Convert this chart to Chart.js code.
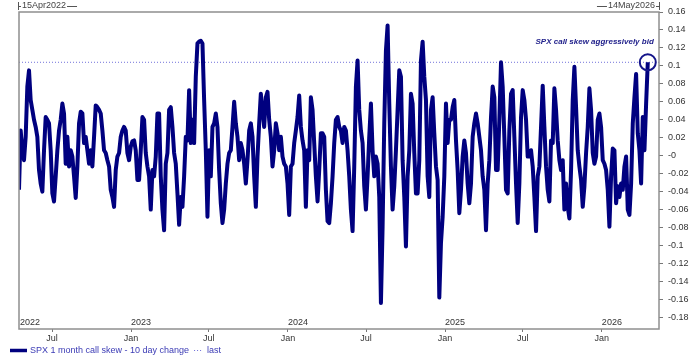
<!DOCTYPE html>
<html>
<head>
<meta charset="utf-8">
<script src="https://cdn.jsdelivr.net/npm/chart.js@4.4.1/dist/chart.umd.min.js"></script>
<style>
html, body { margin: 0; padding: 0; background: #fff; }
</style>
</head>
<body>
<canvas id="skew" width="700" height="357"></canvas>
<script>
// SPX 1 month call skew, 10 day change - sampled about every 3.9 days
const startDate = "2022-04-15"
const endDate = "2026-05-14"
const sampleDays = 3.883
const skewChange = [
	-0.038, 0.028, 0.006, -0.005, 0.021, 0.077, 0.095, 0.062, 0.051, 0.040,
	0.032, 0.021, -0.016, -0.031, -0.040, 0.006, 0.043, 0.040, 0.036, 0.006,
	-0.042, -0.051, -0.023, 0.006, 0.028, 0.040, 0.058, 0.047, -0.009, 0.021,
	-0.012, 0.006, -0.001, -0.023, -0.047, -0.012, 0.036, 0.049, 0.047, 0.014,
	0.021, 0.006, -0.009, 0.006, -0.012, 0.021, 0.056, 0.054, 0.051, 0.047,
	0.028, 0.006, 0.003, -0.005, -0.012, -0.038, -0.046, -0.057, -0.016, -0.001,
	0.003, 0.021, 0.028, 0.032, 0.028, 0.003, -0.005, 0.010, 0.016, 0.017,
	0.006, -0.027, -0.027, 0.006, 0.043,
	0.040, 0.003, -0.012, -0.023, -0.060, -0.016, -0.023, -0.001, 0.047, 0.047,
	-0.023, -0.060, -0.083, -0.009, 0.003, 0.051, 0.054, 0.032, 0.003, -0.009,
	-0.042, -0.077, -0.046, -0.057, -0.023, 0.021, 0.017, 0.073, 0.014, 0.040,
	0.014, 0.088, 0.125, 0.127, 0.128, 0.125, 0.062, 0.006, -0.068, 0.006,
	-0.023, 0.032, 0.036, 0.047, 0.032, -0.016, -0.053, -0.075, -0.060, -0.031,
	-0.009, 0.003, 0.006, 0.032, 0.060, 0.036, 0.021, -0.005, 0.014, 0.006,
	-0.009, -0.031, -0.005, 0.028, 0.036, 0.021, -0.023, -0.057, -0.001, 0.036,
	0.069, 0.051, 0.032, 0.065, 0.071, 0.040, 0.021, -0.012,
	0.006, 0.036, 0.025, 0.006, 0.021, -0.001, -0.009, -0.012, -0.031, -0.066,
	-0.012, -0.009, 0.014, 0.028, 0.043, 0.067, 0.032, 0.017, 0.006, -0.057,
	0.006, -0.005, 0.065, 0.051, 0.014, -0.023, -0.051, -0.016, 0.025, 0.025,
	0.021, -0.038, -0.073, -0.075, -0.053, -0.023, 0.014, 0.040, 0.043, 0.032,
	0.028, 0.014, 0.032, 0.028, 0.006, -0.023, -0.060, -0.084, -0.012, 0.077,
	0.106, 0.051, 0.028, 0.014, -0.034, -0.060, -0.023, 0.021, 0.058, 0.006,
	-0.023, -0.001, -0.009, -0.046, -0.164, -0.079, 0.036, 0.117, 0.145, 0.058,
	-0.012, -0.060, -0.034, 0.006, 0.051, 0.095, 0.088, -0.005,
	-0.046, -0.101, -0.023, 0.006, 0.069, 0.058, 0.003, -0.042, -0.042, -0.005,
	0.106, 0.127, 0.088, 0.062, -0.023, -0.046, 0.051, 0.065, 0.025, -0.012,
	-0.027, -0.158, -0.097, -0.068, -0.023, 0.058, 0.014, 0.040, 0.040, 0.054,
	0.062, 0.017, -0.016, -0.064, -0.038, -0.001, 0.017, 0.003, -0.031, -0.053,
	-0.031, 0.021, 0.036, 0.047, 0.036, 0.021, 0.006, -0.023, -0.038, -0.083,
	-0.031, -0.005, 0.043, 0.077, 0.065, -0.016, -0.016, 0.040, 0.104, 0.077,
	0.021, -0.038, -0.042, 0.028, 0.069, 0.073, 0.021, -0.031, -0.075, -0.031,
	0.043, 0.073, 0.062, 0.040, -0.001,
	-0.001, 0.006, -0.012, -0.046, -0.084, -0.023, -0.012, 0.032, 0.078, 0.032,
	-0.012, -0.038, -0.051, 0.017, 0.014, 0.075, 0.051, 0.017, -0.005, -0.016,
	-0.005, -0.060, -0.031, -0.057, -0.070, -0.016, 0.062, 0.099, 0.054, 0.006,
	-0.012, -0.027, -0.057, -0.034, 0.003, 0.032, 0.075, 0.051, 0.003, -0.009,
	-0.001, 0.040, 0.047, 0.032, -0.005, -0.009, -0.016, -0.038, -0.079, -0.023,
	0.008, 0.006, -0.053, -0.034, -0.046, -0.031, -0.038, -0.012, -0.001, -0.060,
	-0.066, -0.031, 0.036, 0.065, 0.091, 0.025, 0.006, -0.031, 0.043, 0.006,
	0.058, 0.104
]
const xTickDates = ["2022-07-01", "2023-01-01", "2023-07-01", "2024-01-01", "2024-07-01", "2025-01-01", "2025-07-01", "2026-01-01"]
const xTickLabels = ["Jul", "Jan", "Jul", "Jan", "Jul", "Jan", "Jul", "Jan"]
const yearDates = ["2022-04-15", "2023-01-01", "2024-01-01", "2025-01-01", "2026-01-01"]
const yearLabels = ["2022", "2023", "2024", "2025", "2026"]
const yTicks = [0.16, 0.14, 0.12, 0.1, 0.08, 0.06, 0.04, 0.02, 0, -0.02, -0.04, -0.06, -0.08, -0.1, -0.12, -0.14, -0.16, -0.18]
const seriesName = "SPX 1 month call skew - 10 day change"
const lastName = "last"
const noteText = "SPX call skew aggressively bid"
const monthNames = ["Jan", "Feb", "Mar", "Apr", "May", "Jun", "Jul", "Aug", "Sep", "Oct", "Nov", "Dec"]

const FONT = "'Liberation Sans', Arial, sans-serif"
const NAVY = "#00007f"
const DAY = 86400000

function toMs(d) { return new Date(d + "T00:00:00Z").getTime() }
function bbgDate(d) {
	let t = new Date(d + "T00:00:00Z")
	return String(t.getUTCDate()).padStart(2, "0") + monthNames[t.getUTCMonth()] + t.getUTCFullYear()
}

let t0 = toMs(startDate)
let points = skewChange.map((v, i) => ({ x: t0 + i * sampleDays * DAY, y: v }))
let lastValue = skewChange[skewChange.length - 1]

//frame, date range, year labels, note and legend
const decorations = {
	id: "decorations",
	afterDraw(chart) {
		let ctx = chart.ctx
		let area = chart.chartArea
		let xs = chart.scales.x
		let ys = chart.scales.y
		ctx.save()

		//frame
		ctx.strokeStyle = "#8f8f8f"
		ctx.lineWidth = 1.5
		ctx.strokeRect(area.left, area.top, area.right - area.left, area.bottom - area.top)

		//date range at top
		ctx.font = "9px " + FONT
		ctx.fillStyle = "#444"
		ctx.strokeStyle = "#555"
		ctx.lineWidth = 1
		ctx.textBaseline = "middle"
		ctx.textAlign = "left"
		let left = bbgDate(startDate)
		let lw = ctx.measureText(left).width
		ctx.fillText(left, area.left + 3, 6)
		ctx.beginPath()
		ctx.moveTo(area.left - 0.5, 2); ctx.lineTo(area.left - 0.5, 10)
		ctx.moveTo(area.left - 0.5, 6.5); ctx.lineTo(area.left + 2, 6.5)
		ctx.moveTo(area.left + 4 + lw, 6.5); ctx.lineTo(area.left + 14 + lw, 6.5)
		ctx.stroke()
		ctx.textAlign = "right"
		let right = bbgDate(endDate)
		let rw = ctx.measureText(right).width
		ctx.fillText(right, area.right - 4, 6)
		ctx.beginPath()
		ctx.moveTo(area.right + 0.5, 2); ctx.lineTo(area.right + 0.5, 10)
		ctx.moveTo(area.right + 0.5, 6.5); ctx.lineTo(area.right - 3, 6.5)
		ctx.moveTo(area.right - 5 - rw, 6.5); ctx.lineTo(area.right - 15 - rw, 6.5)
		ctx.stroke()

		//year labels inside the plot
		ctx.fillStyle = "#333"
		ctx.textAlign = "left"
		yearLabels.forEach((label, i) => {
			let px = Math.max(xs.getPixelForValue(toMs(yearDates[i])), area.left + 1)
			ctx.fillText(label, px, area.bottom - 6)
		})

		//circle on last point and note
		let lx = xs.getPixelForValue(points[points.length - 1].x)
		let ly = ys.getPixelForValue(lastValue)
		ctx.strokeStyle = "#14148a"
		ctx.lineWidth = 2
		ctx.beginPath()
		ctx.arc(lx, ly, 8, 0, Math.PI * 2)
		ctx.stroke()
		ctx.font = "italic bold 8px " + FONT
		ctx.fillStyle = "#22228c"
		ctx.textAlign = "right"
		ctx.fillText(noteText, lx + 6, ly - 20)

		//legend
		let legendY = 350.5
		ctx.strokeStyle = NAVY
		ctx.lineWidth = 3.5
		ctx.beginPath()
		ctx.moveTo(10, legendY); ctx.lineTo(27, legendY)
		ctx.stroke()
		ctx.font = "9px " + FONT
		ctx.fillStyle = "#3b3bb5"
		ctx.textAlign = "left"
		ctx.fillText(seriesName, 30, legendY)
		let sx = 30 + ctx.measureText(seriesName).width + 5
		ctx.strokeStyle = "#6d6dd8"
		ctx.lineWidth = 1
		ctx.setLineDash([1, 2])
		ctx.beginPath()
		ctx.moveTo(sx, legendY); ctx.lineTo(sx + 9, legendY)
		ctx.stroke()
		ctx.setLineDash([])
		ctx.fillText(lastName, sx + 13, legendY)

		ctx.restore()
	}
}

let skewChart = new Chart(document.getElementById("skew"), {
	type: "line",
	data: {
		datasets: [{
			label: seriesName,
			data: points,
			borderColor: NAVY,
			borderWidth: 4,
			borderJoinStyle: "round",
			pointRadius: 0,
			tension: 0,
			order: 1
		}, {
			label: lastName,
			data: [{ x: toMs(startDate), y: lastValue }, { x: toMs(endDate), y: lastValue }],
			borderColor: "#7272da",
			borderWidth: 1,
			borderDash: [1, 2],
			pointRadius: 0,
			order: 2
		}]
	},
	options: {
		responsive: false,
		animation: false,
		devicePixelRatio: 1,
		layout: { padding: { left: 19, top: 12, right: 0, bottom: 12 } },
		plugins: {
			legend: { display: false },
			tooltip: { enabled: false }
		},
		scales: {
			x: {
				type: "linear",
				min: toMs(startDate),
				max: toMs(endDate),
				afterBuildTicks: s => { s.ticks = xTickDates.map(d => ({ value: toMs(d) })) },
				afterFit: s => { s.height = 16 },
				grid: { drawOnChartArea: false, drawTicks: true, tickLength: 3, color: "#777" },
				border: { display: false },
				ticks: {
					autoSkip: false,
					maxRotation: 0,
					padding: 1,
					color: "#333",
					font: { family: FONT, size: 9 },
					callback: (v, i) => xTickLabels[i]
				}
			},
			y: {
				position: "right",
				min: -0.193,
				max: 0.16,
				afterBuildTicks: s => { s.ticks = yTicks.map(v => ({ value: v })) },
				afterFit: s => { s.width = 41 },
				grid: { drawOnChartArea: false, drawTicks: true, tickLength: 4, color: "#777" },
				border: { display: false },
				ticks: {
					padding: 5,
					color: "#333",
					font: { family: FONT, size: 9 },
					callback: v => v === 0 ? "-0" : String(parseFloat(v.toFixed(2)))
				}
			}
		}
	},
	plugins: [decorations]
})
</script>
</body>
</html>
